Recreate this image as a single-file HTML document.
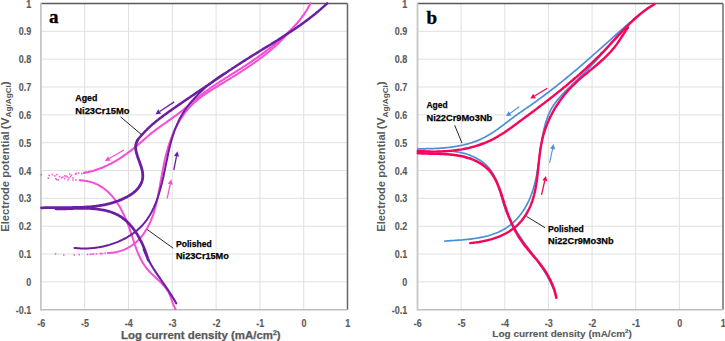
<!DOCTYPE html>
<html><head><meta charset="utf-8"><style>
html,body{margin:0;padding:0;background:#fff;width:725px;height:341px;overflow:hidden}
svg{display:block}
text{font-family:"Liberation Sans",sans-serif}
.tk{font-size:10px;font-weight:bold;fill:#595959;stroke:#595959;stroke-width:0.12px}
.ttl{font-weight:bold;fill:#595959;stroke:#595959;stroke-width:0.25px}
.sub{font-size:7px}
.ttlb{stroke-width:0.1px}
.ttly{stroke-width:0px}
.lb{font-size:9.8px;font-weight:bold;fill:#000;stroke:#000;stroke-width:0.25px}
.pl{font-family:"Liberation Serif",serif;font-weight:bold;font-size:19px;fill:#000;stroke:#000;stroke-width:0.35px}
</style></head><body>
<svg width="725" height="341" viewBox="0 0 725 341">
<line x1="84.70" y1="3.50" x2="84.70" y2="309.70" stroke="#e0e0e0" stroke-width="1.00"/>
<line x1="128.50" y1="3.50" x2="128.50" y2="309.70" stroke="#e0e0e0" stroke-width="1.00"/>
<line x1="172.30" y1="3.50" x2="172.30" y2="309.70" stroke="#e0e0e0" stroke-width="1.00"/>
<line x1="216.10" y1="3.50" x2="216.10" y2="309.70" stroke="#e0e0e0" stroke-width="1.00"/>
<line x1="259.90" y1="3.50" x2="259.90" y2="309.70" stroke="#e0e0e0" stroke-width="1.00"/>
<line x1="303.70" y1="3.50" x2="303.70" y2="309.70" stroke="#e0e0e0" stroke-width="1.00"/>
<line x1="40.90" y1="31.34" x2="347.50" y2="31.34" stroke="#e0e0e0" stroke-width="1.00"/>
<line x1="40.90" y1="59.17" x2="347.50" y2="59.17" stroke="#e0e0e0" stroke-width="1.00"/>
<line x1="40.90" y1="87.01" x2="347.50" y2="87.01" stroke="#e0e0e0" stroke-width="1.00"/>
<line x1="40.90" y1="114.85" x2="347.50" y2="114.85" stroke="#e0e0e0" stroke-width="1.00"/>
<line x1="40.90" y1="142.68" x2="347.50" y2="142.68" stroke="#e0e0e0" stroke-width="1.00"/>
<line x1="40.90" y1="170.52" x2="347.50" y2="170.52" stroke="#e0e0e0" stroke-width="1.00"/>
<line x1="40.90" y1="198.35" x2="347.50" y2="198.35" stroke="#e0e0e0" stroke-width="1.00"/>
<line x1="40.90" y1="226.19" x2="347.50" y2="226.19" stroke="#e0e0e0" stroke-width="1.00"/>
<line x1="40.90" y1="254.03" x2="347.50" y2="254.03" stroke="#e0e0e0" stroke-width="1.00"/>
<line x1="40.90" y1="281.86" x2="347.50" y2="281.86" stroke="#e0e0e0" stroke-width="1.00"/>
<text transform="translate(31.20,7.60) scale(0.9,1)" text-anchor="end" class="tk">1</text>
<text transform="translate(31.20,35.44) scale(0.9,1)" text-anchor="end" class="tk">0.9</text>
<text transform="translate(31.20,63.27) scale(0.9,1)" text-anchor="end" class="tk">0.8</text>
<text transform="translate(31.20,91.11) scale(0.9,1)" text-anchor="end" class="tk">0.7</text>
<text transform="translate(31.20,118.95) scale(0.9,1)" text-anchor="end" class="tk">0.6</text>
<text transform="translate(31.20,146.78) scale(0.9,1)" text-anchor="end" class="tk">0.5</text>
<text transform="translate(31.20,174.62) scale(0.9,1)" text-anchor="end" class="tk">0.4</text>
<text transform="translate(31.20,202.45) scale(0.9,1)" text-anchor="end" class="tk">0.3</text>
<text transform="translate(31.20,230.29) scale(0.9,1)" text-anchor="end" class="tk">0.2</text>
<text transform="translate(31.20,258.13) scale(0.9,1)" text-anchor="end" class="tk">0.1</text>
<text transform="translate(31.20,285.96) scale(0.9,1)" text-anchor="end" class="tk">0</text>
<text transform="translate(31.20,313.80) scale(0.9,1)" text-anchor="end" class="tk">-0.1</text>
<text transform="translate(41.20,327.30) scale(0.9,1)" text-anchor="middle" class="tk">-6</text>
<text transform="translate(85.00,327.30) scale(0.9,1)" text-anchor="middle" class="tk">-5</text>
<text transform="translate(128.80,327.30) scale(0.9,1)" text-anchor="middle" class="tk">-4</text>
<text transform="translate(172.60,327.30) scale(0.9,1)" text-anchor="middle" class="tk">-3</text>
<text transform="translate(216.40,327.30) scale(0.9,1)" text-anchor="middle" class="tk">-2</text>
<text transform="translate(260.20,327.30) scale(0.9,1)" text-anchor="middle" class="tk">-1</text>
<text transform="translate(304.00,327.30) scale(0.9,1)" text-anchor="middle" class="tk">0</text>
<text transform="translate(347.80,327.30) scale(0.9,1)" text-anchor="middle" class="tk">1</text>
<text x="121.00" y="338.50" class="ttl" style="font-size:10.80px" textLength="159.70" lengthAdjust="spacingAndGlyphs">Log current density (mA/cm<tspan style="font-size:6.70px" dy="-3.89">2</tspan><tspan dy="3.89">)</tspan></text>
<g transform="translate(9.00,231.8) rotate(-90)"><text x="0" y="0" class="ttl ttly" style="font-size:10px" textLength="100.5" lengthAdjust="spacingAndGlyphs">Electrode potential</text><text x="102.6" y="0" class="ttl ttly" style="font-size:10px" textLength="48.0" lengthAdjust="spacingAndGlyphs">(V<tspan class="sub" dy="2.4">Ag/AgCl</tspan><tspan dy="-2.4">)</tspan></text></g>
<text x="49.00" y="22.50" class="pl">a</text>
<line x1="40.90" y1="3.50" x2="347.50" y2="3.50" stroke="#5a5a5a" stroke-width="1.40"/>
<line x1="347.50" y1="3.50" x2="347.50" y2="309.70" stroke="#666666" stroke-width="1.50"/>
<line x1="40.90" y1="309.70" x2="347.50" y2="309.70" stroke="#bdbdbd" stroke-width="1.60"/>
<line x1="40.90" y1="2.80" x2="40.90" y2="310.50" stroke="#c6c6c6" stroke-width="1.80"/>
<line x1="461.14" y1="3.50" x2="461.14" y2="309.70" stroke="#e0e0e0" stroke-width="1.00"/>
<line x1="504.79" y1="3.50" x2="504.79" y2="309.70" stroke="#e0e0e0" stroke-width="1.00"/>
<line x1="548.43" y1="3.50" x2="548.43" y2="309.70" stroke="#e0e0e0" stroke-width="1.00"/>
<line x1="592.07" y1="3.50" x2="592.07" y2="309.70" stroke="#e0e0e0" stroke-width="1.00"/>
<line x1="635.71" y1="3.50" x2="635.71" y2="309.70" stroke="#e0e0e0" stroke-width="1.00"/>
<line x1="679.36" y1="3.50" x2="679.36" y2="309.70" stroke="#e0e0e0" stroke-width="1.00"/>
<line x1="417.50" y1="31.34" x2="723.00" y2="31.34" stroke="#e0e0e0" stroke-width="1.00"/>
<line x1="417.50" y1="59.17" x2="723.00" y2="59.17" stroke="#e0e0e0" stroke-width="1.00"/>
<line x1="417.50" y1="87.01" x2="723.00" y2="87.01" stroke="#e0e0e0" stroke-width="1.00"/>
<line x1="417.50" y1="114.85" x2="723.00" y2="114.85" stroke="#e0e0e0" stroke-width="1.00"/>
<line x1="417.50" y1="142.68" x2="723.00" y2="142.68" stroke="#e0e0e0" stroke-width="1.00"/>
<line x1="417.50" y1="170.52" x2="723.00" y2="170.52" stroke="#e0e0e0" stroke-width="1.00"/>
<line x1="417.50" y1="198.35" x2="723.00" y2="198.35" stroke="#e0e0e0" stroke-width="1.00"/>
<line x1="417.50" y1="226.19" x2="723.00" y2="226.19" stroke="#e0e0e0" stroke-width="1.00"/>
<line x1="417.50" y1="254.03" x2="723.00" y2="254.03" stroke="#e0e0e0" stroke-width="1.00"/>
<line x1="417.50" y1="281.86" x2="723.00" y2="281.86" stroke="#e0e0e0" stroke-width="1.00"/>
<text transform="translate(407.30,7.60) scale(0.9,1)" text-anchor="end" class="tk">1</text>
<text transform="translate(407.30,35.44) scale(0.9,1)" text-anchor="end" class="tk">0.9</text>
<text transform="translate(407.30,63.27) scale(0.9,1)" text-anchor="end" class="tk">0.8</text>
<text transform="translate(407.30,91.11) scale(0.9,1)" text-anchor="end" class="tk">0.7</text>
<text transform="translate(407.30,118.95) scale(0.9,1)" text-anchor="end" class="tk">0.6</text>
<text transform="translate(407.30,146.78) scale(0.9,1)" text-anchor="end" class="tk">0.5</text>
<text transform="translate(407.30,174.62) scale(0.9,1)" text-anchor="end" class="tk">0.4</text>
<text transform="translate(407.30,202.45) scale(0.9,1)" text-anchor="end" class="tk">0.3</text>
<text transform="translate(407.30,230.29) scale(0.9,1)" text-anchor="end" class="tk">0.2</text>
<text transform="translate(407.30,258.13) scale(0.9,1)" text-anchor="end" class="tk">0.1</text>
<text transform="translate(407.30,285.96) scale(0.9,1)" text-anchor="end" class="tk">0</text>
<text transform="translate(407.30,313.80) scale(0.9,1)" text-anchor="end" class="tk">-0.1</text>
<text transform="translate(417.80,327.30) scale(0.9,1)" text-anchor="middle" class="tk">-6</text>
<text transform="translate(461.44,327.30) scale(0.9,1)" text-anchor="middle" class="tk">-5</text>
<text transform="translate(505.09,327.30) scale(0.9,1)" text-anchor="middle" class="tk">-4</text>
<text transform="translate(548.73,327.30) scale(0.9,1)" text-anchor="middle" class="tk">-3</text>
<text transform="translate(592.37,327.30) scale(0.9,1)" text-anchor="middle" class="tk">-2</text>
<text transform="translate(636.01,327.30) scale(0.9,1)" text-anchor="middle" class="tk">-1</text>
<text transform="translate(679.66,327.30) scale(0.9,1)" text-anchor="middle" class="tk">0</text>
<text transform="translate(723.30,327.30) scale(0.9,1)" text-anchor="middle" class="tk">1</text>
<text x="492.30" y="336.80" class="ttl ttlb" style="font-size:9.70px" textLength="139.60" lengthAdjust="spacingAndGlyphs">Log current density (mA/cm<tspan style="font-size:6.01px" dy="-3.49">2</tspan><tspan dy="3.49">)</tspan></text>
<g transform="translate(385.30,231.8) rotate(-90)"><text x="0" y="0" class="ttl ttly" style="font-size:10px" textLength="100.5" lengthAdjust="spacingAndGlyphs">Electrode potential</text><text x="102.6" y="0" class="ttl ttly" style="font-size:10px" textLength="48.0" lengthAdjust="spacingAndGlyphs">(V<tspan class="sub" dy="2.4">Ag/AgCl</tspan><tspan dy="-2.4">)</tspan></text></g>
<text x="426.50" y="24.10" class="pl">b</text>
<line x1="417.50" y1="3.50" x2="723.00" y2="3.50" stroke="#5a5a5a" stroke-width="1.40"/>
<line x1="723.00" y1="3.50" x2="723.00" y2="309.70" stroke="#6e6e6e" stroke-width="1.50"/>
<line x1="417.50" y1="309.70" x2="723.00" y2="309.70" stroke="#bdbdbd" stroke-width="1.60"/>
<line x1="417.50" y1="2.80" x2="417.50" y2="310.50" stroke="#c6c6c6" stroke-width="1.80"/>
<path d="M79.7 180.3 L81.3 180.4 L83.0 180.5 L84.6 180.7 L86.2 180.9 L87.8 181.2 L89.3 181.6 L90.8 182.0 L92.2 182.4 L93.6 182.9 L95.0 183.5 L96.4 184.1 L97.7 184.7 L99.0 185.4 L100.3 186.1 L101.5 186.9 L102.7 187.7 L103.9 188.5 L105.1 189.4 L106.2 190.3 L107.3 191.3 L108.4 192.3 L109.4 193.3 L110.4 194.3 L111.4 195.4 L112.4 196.5 L113.3 197.7 L114.3 198.8 L115.2 200.0 L116.1 201.2 L116.9 202.5 L117.7 203.7 L118.6 205.0 L119.4 206.3 L120.1 207.6 L120.9 209.0 L121.6 210.3 L122.3 211.7 L123.0 213.1 L123.7 214.5 L124.4 215.9 L125.0 217.3 L125.7 218.8 L126.3 220.2 L126.9 221.6 L127.4 223.1 L128.0 224.5 L128.6 226.0 L129.1 227.5 L129.6 228.9 L130.1 230.4 L130.6 231.8 L131.1 233.3 L131.6 234.7 L132.1 236.2 L132.6 237.6 L133.0 239.1 L133.5 240.5 L134.0 242.0 L134.5 243.4 L134.9 244.8 L135.4 246.2 L135.9 247.6 L136.4 249.0 L136.9 250.4 L137.5 251.8 L138.0 253.1 L138.6 254.5 L139.2 255.8 L139.8 257.1 L140.4 258.5 L141.1 259.7 L141.8 261.0 L142.5 262.3 L143.3 263.6 L144.1 264.8 L144.9 266.0 L145.8 267.2 L146.7 268.4 L147.7 269.6 L148.6 270.7 L149.7 271.8 L150.8 273.0 L151.9 274.0 L153.0 275.1 L154.2 276.2 L155.3 277.3 L156.5 278.4 L157.7 279.4 L158.8 280.5 L160.0 281.6 L161.1 282.7 L162.2 283.8 L163.2 285.0 L164.3 286.1 L165.2 287.3 L166.2 288.5 L167.0 289.7 L167.8 290.9 L168.6 292.2 L169.2 293.6 L169.8 294.9 L170.4 296.3 L170.9 297.7 L171.4 299.1 L171.9 300.5 L172.4 302.0 L172.9 303.4 L173.4 304.9 L174.1 306.3 L174.7 307.7 L175.5 309.1" fill="none" stroke="#f450d4" stroke-width="2.00" stroke-linecap="round" stroke-linejoin="round"/>
<path d="M107.9 253.0 L109.4 252.9 L111.0 252.8 L112.5 252.7 L114.1 252.5 L115.6 252.2 L117.1 251.9 L118.6 251.5 L120.0 251.1 L121.5 250.6 L122.9 250.1 L124.3 249.6 L125.7 248.9 L127.1 248.3 L128.4 247.6 L129.7 246.8 L131.0 246.0 L132.2 245.2 L133.4 244.3 L134.6 243.4 L135.8 242.5 L136.9 241.5 L138.0 240.4 L139.0 239.4 L140.1 238.3 L141.0 237.1 L142.0 236.0 L142.9 234.8 L143.8 233.6 L144.6 232.3 L145.4 231.1 L146.2 229.8 L147.0 228.5 L147.7 227.2 L148.4 225.8 L149.1 224.5 L149.7 223.1 L150.3 221.8 L150.9 220.4 L151.5 219.0 L152.0 217.6 L152.6 216.2 L153.1 214.8 L153.6 213.4 L154.0 211.9 L154.5 210.5 L154.9 209.1 L155.3 207.6 L155.7 206.2 L156.1 204.7 L156.4 203.2 L156.8 201.7 L157.1 200.3 L157.4 198.8 L157.8 197.3 L158.1 195.8 L158.4 194.3 L158.7 192.8 L158.9 191.3 L159.2 189.8 L159.5 188.3 L159.8 186.8 L160.0 185.3 L160.3 183.8 L160.5 182.2 L160.8 180.7 L161.1 179.2 L161.3 177.7 L161.6 176.2 L161.9 174.7 L162.1 173.2 L162.4 171.7 L162.7 170.2 L163.0 168.7 L163.3 167.2 L163.6 165.7 L163.9 164.2 L164.2 162.7 L164.5 161.2 L164.8 159.7 L165.2 158.2 L165.5 156.8 L165.9 155.3 L166.3 153.8 L166.7 152.4 L167.1 150.9 L167.5 149.4 L167.9 148.0 L168.3 146.6 L168.8 145.1 L169.3 143.7 L169.8 142.3 L170.3 140.8 L170.8 139.4 L171.3 138.0 L171.8 136.6 L172.4 135.2 L173.0 133.8 L173.6 132.4 L174.2 131.0 L174.9 129.7 L175.5 128.3 L176.2 127.0 L176.9 125.6 L177.6 124.3 L178.3 123.0 L179.1 121.7 L179.8 120.4 L180.6 119.1 L181.4 117.8 L182.3 116.6 L183.1 115.4 L184.0 114.1 L184.9 112.9 L185.8 111.7 L186.8 110.6 L187.7 109.4 L188.7 108.3 L189.7 107.2 L190.7 106.1 L191.8 105.0 L192.8 104.0 L193.9 102.9 L195.1 101.9 L196.2 101.0 L197.4 100.0 L198.5 99.0 L199.7 98.1 L200.9 97.2 L202.2 96.3 L203.4 95.4 L204.6 94.5 L205.9 93.7 L207.2 92.8 L208.5 92.0 L209.7 91.2 L211.0 90.3 L212.3 89.5 L213.6 88.7 L214.9 87.9 L216.2 87.1 L217.5 86.3 L218.8 85.5 L220.1 84.7 L221.4 83.9 L222.7 83.1 L224.0 82.3 L225.3 81.5 L226.6 80.7 L227.9 79.9 L229.2 79.1 L230.5 78.3 L231.8 77.5 L233.1 76.7 L234.4 75.9 L235.7 75.1 L237.0 74.3 L238.2 73.4 L239.5 72.6 L240.8 71.8 L242.1 71.0 L243.3 70.2 L244.6 69.4 L245.8 68.5 L247.1 67.7 L248.4 66.9 L249.6 66.0 L250.9 65.2 L252.1 64.3 L253.3 63.5 L254.6 62.6 L255.8 61.7 L257.0 60.8 L258.2 60.0 L259.4 59.1 L260.6 58.2 L261.8 57.3 L263.0 56.4 L264.2 55.4 L265.4 54.5 L266.6 53.6 L267.8 52.6 L268.9 51.7 L270.1 50.7 L271.2 49.7 L272.4 48.8 L273.5 47.8 L274.6 46.8 L275.7 45.7 L276.9 44.7 L278.0 43.7 L279.1 42.6 L280.1 41.6 L281.2 40.5 L282.3 39.4 L283.3 38.3 L284.4 37.2 L285.4 36.1 L286.5 34.9 L287.5 33.8" fill="none" stroke="#f450d4" stroke-width="2.00" stroke-linecap="round" stroke-linejoin="round"/>
<path d="M83.9 172.9 L85.4 172.6 L86.9 172.3 L88.4 172.0 L89.8 171.6 L91.3 171.3 L92.7 170.9 L94.2 170.4 L95.6 170.0 L97.1 169.5 L98.5 169.0 L99.9 168.5 L101.3 167.9 L102.7 167.4 L104.1 166.8 L105.4 166.2 L106.8 165.6 L108.2 164.9 L109.5 164.2 L110.9 163.6 L112.2 162.8 L113.5 162.1 L114.8 161.4 L116.2 160.6 L117.5 159.8 L118.7 159.1 L120.0 158.3 L121.3 157.4 L122.6 156.6 L123.8 155.7 L125.0 154.9 L126.3 154.0 L127.5 153.1 L128.7 152.2 L129.9 151.3 L131.1 150.4 L132.3 149.4 L133.5 148.5 L134.6 147.5 L135.8 146.6 L137.0 145.6 L138.1 144.6 L139.3 143.6 L140.4 142.7 L141.5 141.7 L142.7 140.7 L143.8 139.7 L144.9 138.7 L146.1 137.7 L147.2 136.8 L148.3 135.8 L149.5 134.8 L150.6 133.9 L151.8 132.9 L153.0 132.0 L154.2 131.1 L155.4 130.1 L156.6 129.2 L157.8 128.4 L159.0 127.5 L160.2 126.6 L161.4 125.7 L162.7 124.9 L163.9 124.0 L165.1 123.1 L166.4 122.3 L167.6 121.4 L168.8 120.5 L170.1 119.7 L171.3 118.8 L172.5 117.9 L173.7 117.0 L174.9 116.1 L176.2 115.3 L177.4 114.3 L178.6 113.4 L179.8 112.5 L180.9 111.6 L182.1 110.7 L183.3 109.7 L184.5 108.8 L185.6 107.8 L186.8 106.9 L188.0 105.9 L189.1 104.9 L190.2 104.0 L191.4 103.0 L192.5 102.0 L193.7 101.0 L194.8 100.1 L196.0 99.1 L197.1 98.1 L198.3 97.2 L199.5 96.3 L200.6 95.3 L201.8 94.4 L203.0 93.5 L204.2 92.6 L205.4 91.7 L206.6 90.8 L207.9 89.9 L209.1 89.1 L210.3 88.2 L211.6 87.3 L212.8 86.5 L214.0 85.6 L215.3 84.8 L216.5 84.0 L217.8 83.1 L219.1 82.3 L220.3 81.5 L221.6 80.7 L222.9 79.9 L224.1 79.1 L225.4 78.2 L226.7 77.4 L228.0 76.6 L229.2 75.8 L230.5 75.0 L231.8 74.2 L233.1 73.4 L234.4 72.6 L235.6 71.8 L236.9 71.0 L238.2 70.2 L239.5 69.4 L240.8 68.6 L242.0 67.8 L243.3 66.9 L244.6 66.1 L245.8 65.3 L247.1 64.5 L248.4 63.6 L249.6 62.8 L250.9 62.0 L252.1 61.1 L253.4 60.2 L254.6 59.4 L255.9 58.5 L257.1 57.7 L258.3 56.8 L259.6 55.9 L260.8 55.0 L262.0 54.1 L263.2 53.2 L264.4 52.3 L265.6 51.4 L266.8 50.5 L268.0 49.6 L269.2 48.6 L270.4 47.7 L271.6 46.8 L272.8 45.8 L273.9 44.9 L275.1 43.9 L276.3 43.0 L277.4 42.0 L278.6 41.0 L279.7 40.0 L280.9 39.0 L282.0 38.1 L283.1 37.1 L284.3 36.0 L285.4 35.0 L286.5 34.0 L287.6 33.0 L288.7 31.9 L289.8 30.9 L290.8 29.8 L291.9 28.8 L292.9 27.7 L294.0 26.6 L295.0 25.5 L296.0 24.4 L297.0 23.3 L298.0 22.1 L298.9 21.0 L299.9 19.8 L300.8 18.6 L301.7 17.4 L302.6 16.2 L303.5 15.0 L304.4 13.8 L305.2 12.5 L306.0 11.3 L306.8 10.0 L307.6 8.7 L308.3 7.3 L309.1 6.0 L309.8 4.7 L310.5 3.3" fill="none" stroke="#f450d4" stroke-width="2.10" stroke-linecap="round" stroke-linejoin="round"/>
<rect x="40.5" y="174.1" width="1.5" height="1.5" fill="#f450d4"/>
<rect x="48.4" y="174.6" width="1.5" height="1.5" fill="#f450d4"/>
<rect x="47.5" y="177.4" width="1.5" height="1.5" fill="#f450d4"/>
<rect x="51.6" y="173.8" width="1.5" height="1.5" fill="#f450d4"/>
<rect x="54.1" y="175.1" width="1.5" height="1.5" fill="#f450d4"/>
<rect x="56.2" y="173.8" width="1.5" height="1.5" fill="#f450d4"/>
<rect x="55.0" y="177.9" width="1.5" height="1.5" fill="#f450d4"/>
<rect x="57.5" y="179.2" width="1.5" height="1.5" fill="#f450d4"/>
<rect x="55.8" y="178.8" width="1.5" height="1.5" fill="#f450d4"/>
<rect x="60.8" y="177.1" width="1.5" height="1.5" fill="#f450d4"/>
<rect x="64.0" y="175.1" width="1.5" height="1.5" fill="#f450d4"/>
<rect x="64.0" y="177.9" width="1.5" height="1.5" fill="#f450d4"/>
<rect x="65.2" y="175.4" width="1.5" height="1.5" fill="#f450d4"/>
<rect x="66.5" y="176.2" width="1.5" height="1.5" fill="#f450d4"/>
<rect x="68.2" y="177.1" width="1.5" height="1.5" fill="#f450d4"/>
<rect x="67.3" y="179.2" width="1.5" height="1.5" fill="#f450d4"/>
<rect x="69.0" y="173.3" width="1.5" height="1.5" fill="#f450d4"/>
<rect x="70.8" y="174.6" width="1.5" height="1.5" fill="#f450d4"/>
<rect x="69.8" y="175.8" width="1.5" height="1.5" fill="#f450d4"/>
<rect x="72.3" y="177.1" width="1.5" height="1.5" fill="#f450d4"/>
<rect x="72.3" y="179.2" width="1.5" height="1.5" fill="#f450d4"/>
<rect x="75.2" y="179.2" width="1.5" height="1.5" fill="#f450d4"/>
<rect x="74.8" y="173.3" width="1.5" height="1.5" fill="#f450d4"/>
<rect x="75.5" y="172.8" width="1.5" height="1.5" fill="#f450d4"/>
<rect x="77.8" y="172.2" width="1.5" height="1.5" fill="#f450d4"/>
<rect x="81.0" y="172.9" width="1.5" height="1.5" fill="#f450d4"/>
<rect x="79.8" y="179.6" width="1.5" height="1.5" fill="#f450d4"/>
<rect x="62.2" y="176.4" width="1.5" height="1.5" fill="#f450d4"/>
<rect x="58.8" y="175.8" width="1.5" height="1.5" fill="#f450d4"/>
<rect x="54.8" y="253.1" width="1.5" height="1.5" fill="#f450d4"/>
<rect x="63.0" y="254.2" width="1.5" height="1.5" fill="#f450d4"/>
<rect x="73.5" y="254.2" width="1.5" height="1.5" fill="#f450d4"/>
<rect x="78.5" y="253.9" width="1.5" height="1.5" fill="#f450d4"/>
<rect x="86.8" y="253.8" width="1.5" height="1.5" fill="#f450d4"/>
<rect x="89.5" y="253.6" width="1.5" height="1.5" fill="#f450d4"/>
<rect x="91.2" y="253.3" width="1.5" height="1.5" fill="#f450d4"/>
<rect x="92.8" y="253.2" width="1.5" height="1.5" fill="#f450d4"/>
<rect x="95.7" y="253.1" width="1.5" height="1.5" fill="#f450d4"/>
<rect x="99.5" y="252.8" width="1.5" height="1.5" fill="#f450d4"/>
<rect x="100.2" y="252.8" width="1.5" height="1.5" fill="#f450d4"/>
<rect x="101.7" y="252.8" width="1.5" height="1.5" fill="#f450d4"/>
<rect x="104.5" y="252.4" width="1.5" height="1.5" fill="#f450d4"/>
<path d="M56.0 208.9 L57.4 208.9 L58.8 208.9 L60.3 208.9 L61.8 208.9 L63.2 208.8 L64.7 208.8 L66.2 208.8 L67.7 208.7 L69.3 208.7 L70.8 208.6 L72.4 208.6 L73.9 208.5 L75.5 208.5 L77.0 208.5 L78.6 208.4 L80.2 208.4 L81.8 208.4 L83.4 208.4 L84.9 208.4 L86.5 208.4 L88.1 208.5 L89.7 208.5 L91.2 208.6 L92.8 208.7 L94.4 208.8 L95.9 209.0 L97.5 209.2 L99.0 209.3 L100.5 209.6 L102.0 209.8 L103.5 210.1 L105.0 210.4 L106.5 210.7 L107.9 211.1 L109.3 211.5 L110.8 212.0 L112.2 212.5 L113.5 213.0 L114.9 213.6 L116.2 214.2 L117.5 214.8 L118.8 215.5 L120.0 216.3 L121.3 217.0 L122.5 217.9 L123.6 218.8 L124.8 219.7 L125.9 220.6 L127.0 221.6 L128.1 222.7 L129.1 223.7 L130.1 224.8 L131.1 226.0 L132.1 227.1 L133.0 228.3 L133.9 229.5 L134.8 230.8 L135.7 232.0 L136.5 233.3 L137.4 234.6 L138.2 236.0 L138.9 237.3 L139.7 238.7 L140.4 240.1 L141.1 241.4 L141.8 242.8 L142.5 244.3 L143.1 245.7 L143.7 247.1 L144.3 248.5 L144.9 250.0 L145.4 251.4 L145.9 252.9 L146.4 254.3 L146.9 255.7 L147.4 257.2 L147.8 258.6 L148.3 260.0" fill="none" stroke="#6a1fa3" stroke-width="2.70" stroke-linecap="round" stroke-linejoin="round"/>
<path d="M143.7 249.3 L144.2 250.8 L144.8 252.2 L145.4 253.6 L146.1 255.0 L146.7 256.4 L147.4 257.8 L148.1 259.2 L148.8 260.5 L149.5 261.9 L150.3 263.2 L151.0 264.5 L151.8 265.9 L152.6 267.2 L153.4 268.5 L154.3 269.8 L155.1 271.1 L155.9 272.4 L156.8 273.6 L157.6 274.9 L158.5 276.2 L159.4 277.5 L160.3 278.7 L161.1 280.0 L162.0 281.3 L162.9 282.6 L163.8 283.8 L164.7 285.1 L165.5 286.4 L166.4 287.6 L167.3 288.9 L168.1 290.2 L169.0 291.5 L169.8 292.8 L170.7 294.1 L171.5 295.4 L172.3 296.7 L173.1 298.0 L173.9 299.3 L174.7 300.6 L175.5 302.0 L176.2 303.3" fill="none" stroke="#6a1fa3" stroke-width="2.10" stroke-linecap="round" stroke-linejoin="round"/>
<path d="M327.2 3.3 L326.1 4.4 L325.0 5.4 L323.9 6.4 L322.7 7.4 L321.6 8.4 L320.5 9.4 L319.3 10.4 L318.2 11.4 L317.0 12.3 L315.8 13.3 L314.7 14.3 L313.5 15.2 L312.3 16.1 L311.1 17.1 L309.9 18.0 L308.7 18.9 L307.5 19.8 L306.3 20.7 L305.1 21.6 L303.9 22.5 L302.6 23.4 L301.4 24.3 L300.2 25.2 L299.0 26.0 L297.7 26.9 L296.5 27.8 L295.2 28.6 L294.0 29.5 L292.7 30.3 L291.5 31.1 L290.2 32.0 L288.9 32.8 L287.7 33.6 L286.4 34.5 L285.1 35.3 L283.9 36.1 L282.6 36.9 L281.3 37.7 L280.0 38.6 L278.8 39.4 L277.5 40.2 L276.2 41.0 L274.9 41.8 L273.6 42.6 L272.3 43.4 L271.1 44.2 L269.8 45.0 L268.5 45.8 L267.2 46.6 L265.9 47.3 L264.6 48.1 L263.3 48.9 L262.0 49.7 L260.7 50.5 L259.4 51.3 L258.2 52.1 L256.9 52.9 L255.6 53.7 L254.3 54.5 L253.0 55.3 L251.7 56.1 L250.4 56.9 L249.1 57.7 L247.9 58.5 L246.6 59.3 L245.3 60.1 L244.0 60.9 L242.7 61.7 L241.5 62.5 L240.2 63.4 L238.9 64.2 L237.7 65.0 L236.4 65.8 L235.1 66.7 L233.9 67.5 L232.6 68.3 L231.4 69.2 L230.1 70.0 L228.8 70.8 L227.6 71.7 L226.3 72.5 L225.1 73.4 L223.8 74.2 L222.6 75.1 L221.3 75.9 L220.1 76.8 L218.8 77.6 L217.6 78.5 L216.3 79.3 L215.1 80.2 L213.8 81.0 L212.6 81.9 L211.3 82.7 L210.1 83.6 L208.8 84.4 L207.6 85.3 L206.3 86.1 L205.1 87.0 L203.8 87.8 L202.5 88.7 L201.3 89.5 L200.0 90.4 L198.8 91.2 L197.5 92.1 L196.3 92.9 L195.0 93.8 L193.8 94.6 L192.5 95.5 L191.2 96.3 L190.0 97.2 L188.7 98.0 L187.5 98.9 L186.2 99.7 L185.0 100.6 L183.7 101.4 L182.5 102.3 L181.2 103.2 L180.0 104.0 L178.7 104.9 L177.5 105.7 L176.2 106.6 L175.0 107.5 L173.8 108.3 L172.5 109.2 L171.3 110.1 L170.1 110.9 L168.8 111.8 L167.6 112.7 L166.4 113.6 L165.1 114.5 L163.9 115.3 L162.7 116.2 L161.5 117.2 L160.3 118.1 L159.1 119.0 L158.0 119.9 L156.8 120.8 L155.6 121.8 L154.5 122.7 L153.3 123.7 L152.2 124.7 L151.1 125.7 L150.0 126.7 L148.9 127.7 L147.8 128.7 L146.7 129.8 L145.6 130.8 L144.6 131.9 L143.6 133.0 L142.6 134.1 L141.6 135.2 L140.6 136.3 L139.6 137.5 L138.7 138.6 L137.7 139.8" fill="none" stroke="#6a1fa3" stroke-width="2.50" stroke-linecap="round" stroke-linejoin="round"/>
<path d="M137.8 139.9 L137.0 141.3 L136.4 142.7 L136.0 144.1 L135.7 145.5 L135.6 146.9 L135.7 148.4 L135.8 149.8 L136.1 151.3 L136.4 152.8 L136.9 154.2 L137.3 155.7 L137.8 157.2 L138.4 158.7 L138.9 160.2 L139.5 161.8 L140.0 163.3 L140.5 164.8 L141.0 166.3 L141.5 167.8 L141.9 169.3 L142.3 170.8 L142.5 172.3 L142.7 173.8 L142.8 175.3 L142.8 176.7 L142.7 178.1 L142.4 179.5 L142.1 180.9 L141.6 182.3 L141.0 183.6 L140.4 184.9 L139.6 186.1 L138.8 187.3 L137.9 188.5 L136.9 189.6 L135.8 190.7 L134.7 191.7 L133.5 192.7 L132.3 193.6 L131.0 194.5 L129.7 195.3 L128.3 196.1 L127.0 196.9 L125.6 197.6 L124.2 198.3 L122.8 198.9 L121.4 199.6 L120.0 200.1 L118.6 200.7 L117.2 201.2 L115.7 201.7 L114.3 202.2 L112.8 202.7 L111.4 203.1 L109.9 203.5 L108.4 203.9 L107.0 204.2 L105.5 204.6 L104.0 204.9 L102.5 205.2 L101.0 205.4 L99.5 205.7 L97.9 205.9 L96.4 206.1 L94.9 206.3 L93.4 206.5 L91.8 206.6 L90.3 206.8 L88.8 206.9 L87.2 207.0 L85.7 207.1 L84.1 207.2 L82.6 207.3 L81.1 207.3 L79.5 207.4 L78.0 207.4 L76.4 207.5 L74.9 207.5 L73.3 207.5 L71.8 207.6 L70.2 207.6 L68.7 207.6 L67.2 207.6 L65.6 207.6 L64.1 207.6 L62.5 207.6 L61.0 207.6 L59.5 207.6 L58.0 207.6 L56.4 207.6 L54.9 207.6 L53.4 207.6 L51.9 207.6 L50.4 207.6 L48.9 207.6 L47.4 207.6 L45.9 207.7 L44.5 207.7 L43.0 207.8 L41.5 207.8" fill="none" stroke="#6a1fa3" stroke-width="2.80" stroke-linecap="round" stroke-linejoin="round"/>
<path d="M74.5 247.9 L76.0 248.0 L77.4 248.2 L78.9 248.3 L80.4 248.4 L81.9 248.4 L83.4 248.5 L84.9 248.5 L86.4 248.4 L88.0 248.4 L89.5 248.3 L91.0 248.2 L92.5 248.1 L94.1 247.9 L95.6 247.7 L97.1 247.5 L98.7 247.3 L100.2 247.0 L101.7 246.7 L103.2 246.4 L104.7 246.1 L106.2 245.7 L107.7 245.3 L109.2 244.9 L110.7 244.4 L112.2 243.9 L113.7 243.4 L115.1 242.9 L116.6 242.4 L118.0 241.8 L119.4 241.2 L120.8 240.5 L122.2 239.9 L123.6 239.2 L124.9 238.5 L126.3 237.8 L127.6 237.0 L128.9 236.2 L130.2 235.4 L131.4 234.6 L132.7 233.7 L133.9 232.8 L135.1 231.9 L136.2 231.0 L137.4 230.1 L138.5 229.1 L139.6 228.1 L140.6 227.0 L141.7 226.0 L142.7 224.9 L143.6 223.8 L144.6 222.7 L145.5 221.5 L146.4 220.4 L147.2 219.2 L148.0 217.9 L148.8 216.7 L149.6 215.5 L150.4 214.2 L151.1 212.9 L151.8 211.6 L152.5 210.3 L153.1 208.9 L153.8 207.6 L154.4 206.2 L155.0 204.8 L155.6 203.4 L156.1 202.0 L156.7 200.6 L157.2 199.1 L157.7 197.7 L158.2 196.2 L158.6 194.8 L159.1 193.3 L159.5 191.8 L160.0 190.3 L160.4 188.8 L160.8 187.3 L161.2 185.8 L161.6 184.3 L162.0 182.8 L162.3 181.3 L162.7 179.7 L163.0 178.2 L163.4 176.7 L163.7 175.2 L164.0 173.6 L164.4 172.1 L164.7 170.6 L165.0 169.1 L165.3 167.5 L165.6 166.0 L165.9 164.5 L166.2 163.0 L166.5 161.5 L166.9 160.0 L167.2 158.5 L167.5 157.0 L167.8 155.5 L168.1 154.0 L168.4 152.5 L168.8 151.0 L169.1 149.6 L169.5 148.1 L169.8 146.6 L170.2 145.2 L170.5 143.7 L170.9 142.3 L171.3 140.8 L171.7 139.4 L172.1 138.0 L172.6 136.6 L173.0 135.2 L173.5 133.8 L173.9 132.4 L174.4 131.0 L174.9 129.6 L175.5 128.2 L176.0 126.8 L176.6 125.5 L177.2 124.1 L177.8 122.8 L178.4 121.4 L179.0 120.1 L179.7 118.8 L180.4 117.5 L181.1 116.2 L181.9 114.9 L182.7 113.6 L183.5 112.3 L184.3 111.1 L185.1 109.8 L186.0 108.6 L186.9 107.3 L187.8 106.1 L188.8 104.9 L189.7 103.7 L190.7 102.5 L191.7 101.3 L192.8 100.2 L193.8 99.0 L194.8 97.9 L195.9 96.7 L197.0 95.6 L198.1 94.5 L199.2 93.4 L200.3 92.3 L201.4 91.3 L202.5 90.2 L203.7 89.1 L204.8 88.1 L206.0 87.1 L207.1 86.1 L208.3 85.1 L209.5 84.1 L210.7 83.2 L211.9 82.2 L213.1 81.3 L214.3 80.4 L215.5 79.5 L216.7 78.6 L217.9 77.7 L219.1 76.9 L220.3 76.1 L221.5 75.3 L222.8 74.5 L224.0 73.7" fill="none" stroke="#6a1fa3" stroke-width="2.00" stroke-linecap="round" stroke-linejoin="round"/>
<line x1="174.20" y1="101.90" x2="159.67" y2="111.54" stroke="#6a1fa3" stroke-width="1.30"/>
<path d="M155.50 114.30 L158.23 109.37 L161.10 113.70 Z" fill="#6a1fa3"/>
<line x1="123.90" y1="150.00" x2="109.23" y2="158.49" stroke="#f450d4" stroke-width="1.30"/>
<path d="M104.90 161.00 L107.92 156.24 L110.53 160.74 Z" fill="#f450d4"/>
<line x1="173.80" y1="170.00" x2="176.53" y2="156.20" stroke="#6a1fa3" stroke-width="1.30"/>
<path d="M177.50 151.30 L179.08 156.71 L173.98 155.70 Z" fill="#6a1fa3"/>
<line x1="167.20" y1="198.40" x2="170.25" y2="184.19" stroke="#f450d4" stroke-width="1.30"/>
<path d="M171.30 179.30 L172.79 184.73 L167.71 183.64 Z" fill="#f450d4"/>
<line x1="120.60" y1="116.90" x2="141.60" y2="134.70" stroke="#262626" stroke-width="1.00"/>
<line x1="147.00" y1="229.40" x2="173.20" y2="248.20" stroke="#262626" stroke-width="1.00"/>
<text x="75.3" y="101.0" class="lb" textLength="22.1" lengthAdjust="spacingAndGlyphs">Aged</text>
<text x="75.3" y="113.6" class="lb" textLength="54.1" lengthAdjust="spacingAndGlyphs">Ni23Cr15Mo</text>
<text x="176.0" y="246.6" class="lb" textLength="35.8" lengthAdjust="spacingAndGlyphs">Polished</text>
<text x="176.0" y="259.2" class="lb" textLength="52.8" lengthAdjust="spacingAndGlyphs">Ni23Cr15Mo</text>
<path d="M417.8 148.8 L419.3 148.8 L420.8 148.8 L422.3 148.8 L423.8 148.8 L425.3 148.8 L426.8 148.7 L428.3 148.7 L429.8 148.7 L431.4 148.6 L432.9 148.6 L434.4 148.5 L435.9 148.4 L437.5 148.4 L439.0 148.3 L440.5 148.2 L442.1 148.1 L443.6 147.9 L445.1 147.8 L446.6 147.6 L448.2 147.5 L449.7 147.3 L451.2 147.1 L452.7 146.9 L454.2 146.7 L455.7 146.4 L457.2 146.2 L458.7 145.9 L460.2 145.6 L461.7 145.3 L463.2 145.0 L464.6 144.6 L466.1 144.2 L467.6 143.9 L469.0 143.5 L470.5 143.0 L471.9 142.6 L473.3 142.1 L474.7 141.6 L476.1 141.1 L477.5 140.6 L478.9 140.0 L480.3 139.4 L481.6 138.8 L483.0 138.1 L484.3 137.5 L485.6 136.8 L486.9 136.1 L488.2 135.3 L489.5 134.6 L490.8 133.8 L492.0 133.0 L493.3 132.1 L494.6 131.3 L495.8 130.4 L497.0 129.6 L498.3 128.7 L499.5 127.8 L500.7 126.9 L501.9 126.0 L503.1 125.1 L504.4 124.2 L505.6 123.2 L506.8 122.3 L508.0 121.4 L509.2 120.5 L510.4 119.5 L511.6 118.6 L512.9 117.7 L514.1 116.8 L515.3 115.9 L516.6 115.0 L517.8 114.1 L519.0 113.3 L520.3 112.4 L521.5 111.5 L522.8 110.7 L524.0 109.8 L525.3 108.9 L526.5 108.1 L527.8 107.2 L529.0 106.4 L530.3 105.5 L531.5 104.6 L532.8 103.7 L534.0 102.9 L535.2 102.0 L536.5 101.1 L537.7 100.2 L538.9 99.3 L540.1 98.4 L541.4 97.5 L542.6 96.6 L543.8 95.7 L545.0 94.8 L546.2 93.9 L547.4 93.0 L548.6 92.1 L549.8 91.2 L551.0 90.2 L552.2 89.3 L553.4 88.4 L554.6 87.5 L555.8 86.5 L557.0 85.6 L558.1 84.7 L559.3 83.7 L560.5 82.8 L561.7 81.8 L562.9 80.9 L564.0 79.9 L565.2 79.0 L566.4 78.0 L567.5 77.0 L568.7 76.1 L569.9 75.1 L571.0 74.2 L572.2 73.2 L573.3 72.2 L574.5 71.2 L575.7 70.3 L576.8 69.3 L578.0 68.3 L579.1 67.3 L580.3 66.4 L581.4 65.4 L582.6 64.4 L583.7 63.4 L584.8 62.4 L586.0 61.4 L587.1 60.4 L588.3 59.4 L589.4 58.4 L590.5 57.4 L591.7 56.4 L592.8 55.4 L593.9 54.4 L595.1 53.4 L596.2 52.4 L597.4 51.4 L598.5 50.4 L599.6 49.4 L600.7 48.4 L601.9 47.4 L603.0 46.4 L604.1 45.4 L605.3 44.4 L606.4 43.3 L607.5 42.3 L608.6 41.3 L609.8 40.3 L610.9 39.3 L612.0 38.3 L613.2 37.2 L614.3 36.2 L615.4 35.2 L616.5 34.2 L617.7 33.2 L618.8 32.2 L619.9 31.2 L621.1 30.2 L622.2 29.2 L623.4 28.2 L624.5 27.2 L625.6 26.2 L626.8 25.2 L627.9 24.2 L629.1 23.2 L630.3 22.2 L631.4 21.3 L632.6 20.3 L633.8 19.3 L634.9 18.4 L636.1 17.4 L637.3 16.5 L638.5 15.6 L639.7 14.6 L640.9 13.7 L642.1 12.8 L643.3 11.9 L644.5 11.0 L645.7 10.1 L647.0 9.2 L648.2 8.3 L649.5 7.5 L650.7 6.6 L652.0 5.8 L653.2 4.9 L654.5 4.1" fill="none" stroke="#4a90d6" stroke-width="1.70" stroke-linecap="round" stroke-linejoin="round"/>
<path d="M453.7 151.4 L455.1 151.6 L456.6 151.8 L458.1 152.0 L459.6 152.3 L461.1 152.6 L462.7 153.0 L464.2 153.4 L465.7 153.8 L467.2 154.3 L468.7 154.8 L470.2 155.4 L471.6 156.0 L473.1 156.6 L474.5 157.2 L475.9 157.9 L477.3 158.7 L478.6 159.5 L480.0 160.3 L481.3 161.1 L482.5 162.0 L483.7 162.9 L484.9 163.9 L486.0 164.9 L487.1 165.9 L488.1 167.0 L489.1 168.1 L490.0 169.3 L490.9 170.5 L491.7 171.7 L492.5 172.9 L493.2 174.2 L493.9 175.5 L494.6 176.8 L495.2 178.2 L495.8 179.5 L496.4 180.9 L496.9 182.3 L497.5 183.7 L498.0 185.2 L498.5 186.6 L498.9 188.1 L499.4 189.6 L499.8 191.1 L500.3 192.5 L500.7 194.0 L501.1 195.5 L501.6 197.0 L502.0 198.5 L502.4 200.0 L502.9 201.5 L503.3 203.0 L503.8 204.5 L504.3 206.0 L504.8 207.5 L505.3 208.9 L505.8 210.4 L506.4 211.8 L506.9 213.2 L507.5 214.6 L508.1 216.0 L508.8 217.4 L509.4 218.7 L510.1 220.1 L510.8 221.4 L511.5 222.8 L512.3 224.1 L513.0 225.4 L513.8 226.7 L514.5 228.0 L515.3 229.3 L516.1 230.6 L516.9 231.9 L517.7 233.1 L518.6 234.4 L519.4 235.7 L520.3 236.9 L521.1 238.2 L522.0 239.4 L522.8 240.7 L523.7 241.9 L524.6 243.1 L525.5 244.4 L526.4 245.6 L527.3 246.8 L528.2 248.0 L529.1 249.3 L530.0 250.5 L530.9 251.7 L531.8 252.9 L532.7 254.2 L533.6 255.4 L534.4 256.6 L535.3 257.9 L536.2 259.1 L537.1 260.3 L538.0 261.6 L538.8 262.8 L539.7 264.1 L540.5 265.4 L541.4 266.6 L542.2 267.9 L543.0 269.2 L543.8 270.4 L544.6 271.7 L545.4 273.0 L546.2 274.3 L547.0 275.7 L547.7 277.0 L548.4 278.3 L549.1 279.7 L549.8 281.0 L550.5 282.4 L551.2 283.8 L551.8 285.2 L552.5 286.6 L553.1 288.0" fill="none" stroke="#4a90d6" stroke-width="1.70" stroke-linecap="round" stroke-linejoin="round"/>
<path d="M444.8 241.1 L446.2 241.0 L447.7 240.9 L449.1 240.8 L450.6 240.7 L452.1 240.6 L453.6 240.5 L455.1 240.4 L456.6 240.3 L458.1 240.2 L459.6 240.1 L461.1 240.0 L462.6 239.9 L464.2 239.7 L465.7 239.6 L467.2 239.4 L468.7 239.3 L470.3 239.1 L471.8 238.9 L473.3 238.7 L474.9 238.5 L476.4 238.2 L477.9 238.0 L479.4 237.7 L480.9 237.4 L482.4 237.1 L483.9 236.8 L485.4 236.4 L486.9 236.1 L488.3 235.7 L489.8 235.2 L491.2 234.8 L492.7 234.3 L494.1 233.8 L495.5 233.3 L496.9 232.7 L498.3 232.2 L499.6 231.5 L501.0 230.9 L502.3 230.2 L503.6 229.5 L504.9 228.7 L506.2 227.9 L507.4 227.1 L508.6 226.3 L509.8 225.4 L511.0 224.4 L512.2 223.4 L513.3 222.4 L514.4 221.4 L515.5 220.3 L516.6 219.2 L517.6 218.1 L518.6 216.9 L519.6 215.7 L520.5 214.5 L521.4 213.3 L522.3 212.0 L523.2 210.8 L524.0 209.5 L524.8 208.2 L525.6 206.9 L526.3 205.6 L527.1 204.3 L527.7 203.0 L528.4 201.6 L529.0 200.3 L529.6 198.9 L530.2 197.5 L530.7 196.2 L531.3 194.8 L531.8 193.4 L532.3 192.0 L532.7 190.6 L533.2 189.2 L533.6 187.7 L534.0 186.3 L534.4 184.9 L534.8 183.4 L535.1 182.0 L535.5 180.5 L535.8 179.1 L536.1 177.6 L536.4 176.1 L536.7 174.6 L536.9 173.2 L537.2 171.7 L537.5 170.2 L537.7 168.7 L538.0 167.2 L538.2 165.7 L538.4 164.2 L538.6 162.7 L538.9 161.2 L539.1 159.7 L539.3 158.2 L539.5 156.7 L539.7 155.2 L539.9 153.6 L540.1 152.1 L540.3 150.6 L540.5 149.1 L540.8 147.6 L541.0 146.1 L541.2 144.5 L541.4 143.0 L541.7 141.5 L541.9 140.0 L542.2 138.5 L542.4 137.0 L542.7 135.5 L543.0 134.0 L543.3 132.5 L543.6 131.0 L543.9 129.5 L544.3 128.0 L544.6 126.6 L545.0 125.1 L545.4 123.6 L545.8 122.2 L546.3 120.8 L546.8 119.4 L547.3 118.0 L547.8 116.6 L548.3 115.2 L548.9 113.8 L549.5 112.5 L550.2 111.2 L550.8 109.9 L551.5 108.6 L552.3 107.3 L553.1 106.0 L553.9 104.8 L554.7 103.6 L555.6 102.4 L556.5 101.2 L557.4 100.0 L558.4 98.9 L559.4 97.7 L560.4 96.6 L561.4 95.5 L562.4 94.4 L563.5 93.3 L564.5 92.2 L565.6 91.1 L566.7 90.0 L567.8 88.9 L568.9 87.9 L570.0 86.8 L571.1 85.8 L572.2 84.7 L573.3 83.6 L574.4 82.6 L575.5 81.5 L576.6 80.5 L577.7 79.4 L578.7 78.4 L579.8 77.3 L580.9 76.2 L582.0 75.2 L583.0 74.1 L584.1 73.0 L585.1 72.0 L586.2 70.9 L587.3 69.8 L588.3 68.8 L589.3 67.7 L590.4 66.6 L591.4 65.5 L592.4 64.5 L593.5 63.4 L594.5 62.3 L595.5 61.2 L596.5 60.1 L597.5 59.0 L598.5 57.9 L599.5 56.8 L600.5 55.7 L601.5 54.5 L602.5 53.4 L603.5 52.3 L604.5 51.1 L605.4 50.0 L606.4 48.9 L607.4 47.7 L608.3 46.5 L609.3 45.4 L610.2 44.2 L611.2 43.0 L612.1 41.8 L613.1 40.7 L614.0 39.5 L615.0 38.3 L615.9 37.1 L616.9 35.9 L617.8 34.8 L618.8 33.6 L619.8 32.5 L620.8 31.3 L621.9 30.2 L622.9 29.1 L624.0 28.1" fill="none" stroke="#4a90d6" stroke-width="1.70" stroke-linecap="round" stroke-linejoin="round"/>
<path d="M417.8 151.0 L419.3 151.1 L420.8 151.2 L422.3 151.3 L423.8 151.3 L425.3 151.4 L426.9 151.5 L428.4 151.5 L429.9 151.5 L431.4 151.6 L432.9 151.6 L434.5 151.6 L436.0 151.6 L437.5 151.5 L439.0 151.5 L440.6 151.5 L442.1 151.4 L443.6 151.3 L445.1 151.2 L446.6 151.1 L448.1 151.0 L449.7 150.9 L451.2 150.8 L452.7 150.6 L454.2 150.4 L455.7 150.2 L457.2 150.0 L458.7 149.8 L460.2 149.6 L461.7 149.4 L463.1 149.1 L464.6 148.8 L466.1 148.5 L467.6 148.2 L469.0 147.9 L470.5 147.5 L471.9 147.1 L473.4 146.8 L474.8 146.3 L476.2 145.9 L477.7 145.5 L479.1 145.0 L480.5 144.5 L481.9 144.0 L483.3 143.5 L484.7 143.0 L486.1 142.4 L487.4 141.8 L488.8 141.2 L490.1 140.6 L491.5 139.9 L492.8 139.3 L494.1 138.6 L495.4 137.9 L496.7 137.1 L498.0 136.4 L499.3 135.6 L500.6 134.8 L501.9 134.0 L503.1 133.2 L504.4 132.4 L505.7 131.5 L506.9 130.7 L508.1 129.8 L509.4 128.9 L510.6 128.1 L511.9 127.2 L513.1 126.3 L514.3 125.4 L515.5 124.5 L516.8 123.6 L518.0 122.7 L519.2 121.7 L520.4 120.8 L521.7 119.9 L522.9 119.0 L524.1 118.1 L525.3 117.2 L526.5 116.3 L527.8 115.4 L529.0 114.5 L530.2 113.6 L531.4 112.7 L532.6 111.8 L533.9 110.9 L535.1 110.0 L536.3 109.1 L537.5 108.2 L538.7 107.2 L539.9 106.3 L541.1 105.4 L542.3 104.5 L543.5 103.6 L544.7 102.7 L545.9 101.7 L547.1 100.8 L548.3 99.9 L549.5 99.0 L550.7 98.0 L551.9 97.1 L553.1 96.2 L554.2 95.3 L555.4 94.3 L556.6 93.4 L557.8 92.4 L559.0 91.5 L560.1 90.6 L561.3 89.6 L562.5 88.7 L563.6 87.7 L564.8 86.8 L566.0 85.8 L567.1 84.8 L568.3 83.9 L569.4 82.9 L570.6 81.9 L571.7 81.0 L572.9 80.0 L574.0 79.0 L575.1 78.0 L576.3 77.1 L577.4 76.1 L578.5 75.1 L579.7 74.1 L580.8 73.1 L581.9 72.1 L583.0 71.1 L584.1 70.1 L585.3 69.1 L586.4 68.0 L587.5 67.0 L588.6 66.0 L589.7 65.0 L590.8 63.9 L591.9 62.9 L593.0 61.9 L594.0 60.8 L595.1 59.8 L596.2 58.7 L597.3 57.7 L598.3 56.6 L599.4 55.6 L600.5 54.5 L601.5 53.4 L602.6 52.3 L603.7 51.3 L604.7 50.2 L605.8 49.1 L606.8 48.0 L607.8 46.9 L608.9 45.8 L609.9 44.7 L610.9 43.6 L612.0 42.4 L613.0 41.3 L614.0 40.2 L615.1 39.1 L616.1 38.0 L617.1 36.9 L618.1 35.7 L619.2 34.6 L620.2 33.5 L621.2 32.4 L622.3 31.3 L623.3 30.2 L624.4 29.1 L625.4 28.0 L626.5 26.9 L627.5 25.8 L628.6 24.8 L629.6 23.7 L630.7 22.6 L631.8 21.6 L632.9 20.5 L634.0 19.5 L635.1 18.5 L636.2 17.5 L637.4 16.5 L638.5 15.5 L639.7 14.5 L640.8 13.6 L642.0 12.6 L643.2 11.7 L644.4 10.8 L645.6 9.9 L646.8 9.0 L648.1 8.1 L649.3 7.3 L650.6 6.5 L651.9 5.7 L653.2 4.9 L654.5 4.1" fill="none" stroke="#f5065a" stroke-width="2.40" stroke-linecap="round" stroke-linejoin="round"/>
<path d="M417.8 153.2 L419.2 153.3 L420.6 153.3 L422.0 153.4 L423.5 153.4 L424.9 153.5 L426.4 153.5 L427.9 153.5 L429.4 153.6 L430.9 153.6 L432.4 153.6 L433.9 153.7 L435.4 153.7 L437.0 153.8 L438.5 153.8 L440.1 153.9 L441.6 153.9 L443.2 154.0 L444.8 154.1 L446.3 154.2 L447.9 154.3 L449.5 154.5 L451.1 154.6 L452.6 154.8 L454.2 155.0 L455.7 155.2 L457.3 155.4 L458.8 155.7 L460.4 156.0 L461.9 156.3 L463.4 156.6 L464.9 157.0 L466.4 157.4 L467.9 157.9 L469.4 158.3 L470.8 158.8 L472.3 159.4 L473.7 159.9 L475.1 160.6 L476.4 161.2 L477.8 161.9 L479.1 162.6 L480.4 163.4 L481.7 164.2 L482.9 165.0 L484.1 165.8 L485.2 166.7 L486.3 167.7 L487.4 168.7 L488.4 169.7 L489.4 170.7 L490.4 171.8 L491.3 173.0 L492.1 174.1 L492.9 175.3 L493.7 176.6 L494.5 177.8 L495.2 179.1 L495.9 180.4 L496.5 181.7 L497.1 183.1 L497.7 184.5 L498.3 185.9 L498.9 187.3 L499.4 188.7 L499.9 190.1 L500.5 191.6 L501.0 193.0 L501.4 194.5 L501.9 196.0 L502.4 197.5 L502.8 199.0 L503.3 200.4 L503.8 201.9 L504.2 203.4 L504.7 204.9 L505.2 206.4 L505.7 207.8 L506.1 209.3 L506.6 210.7 L507.2 212.2 L507.7 213.6 L508.2 215.0 L508.8 216.4 L509.3 217.8 L509.9 219.2 L510.5 220.6 L511.1 222.0 L511.7 223.3 L512.3 224.7 L512.9 226.0 L513.6 227.4 L514.2 228.7 L514.9 230.0 L515.6 231.3 L516.3 232.6 L517.1 233.9 L517.8 235.2 L518.6 236.5 L519.4 237.7 L520.2 239.0 L521.0 240.2 L521.9 241.4 L522.7 242.7 L523.6 243.9 L524.5 245.1 L525.4 246.3 L526.4 247.5 L527.3 248.6 L528.3 249.8 L529.3 251.0 L530.2 252.1 L531.2 253.3 L532.2 254.5 L533.2 255.6 L534.2 256.8 L535.2 258.0 L536.2 259.2 L537.1 260.3 L538.1 261.5 L539.0 262.7 L540.0 263.9 L540.9 265.1 L541.8 266.3 L542.7 267.6 L543.6 268.8 L544.4 270.0 L545.3 271.3 L546.1 272.6 L546.9 273.8 L547.6 275.1 L548.4 276.4 L549.1 277.8 L549.8 279.1 L550.5 280.4 L551.1 281.8 L551.7 283.2 L552.3 284.5 L552.9 285.9 L553.4 287.4 L553.9 288.8 L554.4 290.2 L554.8 291.7 L555.2 293.2 L555.6 294.7 L556.0 296.2 L556.3 297.7" fill="none" stroke="#f5065a" stroke-width="2.60" stroke-linecap="round" stroke-linejoin="round"/>
<path d="M470.2 243.1 L471.7 242.9 L473.1 242.8 L474.6 242.6 L476.1 242.4 L477.6 242.2 L479.1 242.0 L480.6 241.7 L482.1 241.4 L483.6 241.1 L485.1 240.8 L486.6 240.5 L488.1 240.1 L489.5 239.7 L491.0 239.3 L492.5 238.8 L494.0 238.4 L495.4 237.9 L496.9 237.4 L498.3 236.8 L499.7 236.3 L501.1 235.7 L502.5 235.0 L503.9 234.4 L505.2 233.7 L506.6 233.0 L507.9 232.2 L509.2 231.4 L510.4 230.6 L511.7 229.8 L512.9 228.9 L514.1 228.0 L515.2 227.1 L516.4 226.1 L517.5 225.1 L518.6 224.0 L519.6 222.9 L520.6 221.8 L521.6 220.7 L522.5 219.5 L523.4 218.3 L524.3 217.0 L525.2 215.8 L526.0 214.5 L526.8 213.2 L527.5 211.9 L528.2 210.5 L528.9 209.2 L529.6 207.8 L530.2 206.5 L530.8 205.1 L531.3 203.7 L531.9 202.3 L532.4 200.8 L532.8 199.4 L533.3 198.0 L533.7 196.5 L534.1 195.1 L534.4 193.6 L534.8 192.2 L535.1 190.7 L535.4 189.2 L535.7 187.7 L535.9 186.2 L536.2 184.7 L536.4 183.2 L536.7 181.7 L536.9 180.2 L537.1 178.7 L537.3 177.2 L537.4 175.7 L537.6 174.1 L537.8 172.6 L537.9 171.1 L538.1 169.6 L538.2 168.0 L538.4 166.5 L538.6 165.0 L538.7 163.5 L538.9 161.9 L539.0 160.4 L539.2 158.9 L539.4 157.4 L539.5 155.8 L539.7 154.3 L539.9 152.8 L540.1 151.3 L540.3 149.8 L540.6 148.3 L540.8 146.8 L541.1 145.3 L541.4 143.8 L541.7 142.3 L542.0 140.9 L542.3 139.4 L542.7 137.9 L543.0 136.5 L543.4 135.0 L543.8 133.6 L544.3 132.2 L544.7 130.7 L545.2 129.3 L545.7 127.9 L546.2 126.5 L546.8 125.1 L547.3 123.7 L547.9 122.3 L548.5 121.0 L549.1 119.6 L549.7 118.2 L550.3 116.9 L551.0 115.6 L551.7 114.2 L552.4 112.9 L553.1 111.6 L553.8 110.3 L554.6 109.0 L555.3 107.7 L556.1 106.5 L556.9 105.2 L557.8 104.0 L558.6 102.7 L559.4 101.5 L560.3 100.3 L561.2 99.1 L562.1 97.9 L563.0 96.7 L563.9 95.5 L564.9 94.3 L565.8 93.2 L566.8 92.0 L567.8 90.9 L568.8 89.8 L569.8 88.7 L570.9 87.6 L571.9 86.5 L573.0 85.4 L574.1 84.4 L575.1 83.3 L576.3 82.3 L577.4 81.2 L578.5 80.2 L579.6 79.2 L580.8 78.2 L581.9 77.2 L583.1 76.2 L584.3 75.2 L585.4 74.3 L586.6 73.3 L587.8 72.3 L588.9 71.3 L590.1 70.4 L591.3 69.4 L592.5 68.4 L593.7 67.5 L594.8 66.5 L596.0 65.5 L597.2 64.5 L598.3 63.5 L599.5 62.5 L600.6 61.5 L601.7 60.5 L602.9 59.5 L604.0 58.5 L605.1 57.4 L606.2 56.4 L607.2 55.3 L608.3 54.2 L609.3 53.2 L610.4 52.0 L611.4 50.9 L612.3 49.8 L613.3 48.6 L614.3 47.5 L615.2 46.3 L616.1 45.1 L617.0 43.9 L617.9 42.6 L618.7 41.4 L619.6 40.1 L620.4 38.9 L621.2 37.6 L622.1 36.3 L622.9 35.0 L623.7 33.8 L624.6 32.5 L625.4 31.2 L626.2 30.0 L627.1 28.7 L628.0 27.5" fill="none" stroke="#f5065a" stroke-width="2.40" stroke-linecap="round" stroke-linejoin="round"/>
<line x1="547.30" y1="88.20" x2="534.57" y2="95.99" stroke="#f5065a" stroke-width="1.30"/>
<path d="M530.30 98.60 L533.21 93.77 L535.92 98.21 Z" fill="#f5065a"/>
<line x1="519.30" y1="106.80" x2="510.07" y2="113.39" stroke="#4a90d6" stroke-width="1.10"/>
<path d="M506.00 116.30 L508.56 111.28 L511.58 115.51 Z" fill="#4a90d6"/>
<line x1="541.50" y1="194.90" x2="544.77" y2="180.77" stroke="#f5065a" stroke-width="1.30"/>
<path d="M545.90 175.90 L547.30 181.36 L542.24 180.18 Z" fill="#f5065a"/>
<line x1="549.60" y1="162.80" x2="552.55" y2="148.99" stroke="#4a90d6" stroke-width="1.10"/>
<path d="M553.60 144.10 L555.10 149.53 L550.01 148.45 Z" fill="#4a90d6"/>
<line x1="454.70" y1="125.30" x2="462.00" y2="143.20" stroke="#262626" stroke-width="1.00"/>
<line x1="526.50" y1="216.40" x2="545.00" y2="227.70" stroke="#262626" stroke-width="1.00"/>
<text x="426.5" y="108.1" class="lb" textLength="21.2" lengthAdjust="spacingAndGlyphs">Aged</text>
<text x="426.5" y="120.5" class="lb" textLength="65.7" lengthAdjust="spacingAndGlyphs">Ni22Cr9Mo3Nb</text>
<text x="548.0" y="232.1" class="lb" textLength="35.8" lengthAdjust="spacingAndGlyphs">Polished</text>
<text x="548.0" y="244.3" class="lb" textLength="65.6" lengthAdjust="spacingAndGlyphs">Ni22Cr9Mo3Nb</text>
</svg>
</body></html>
